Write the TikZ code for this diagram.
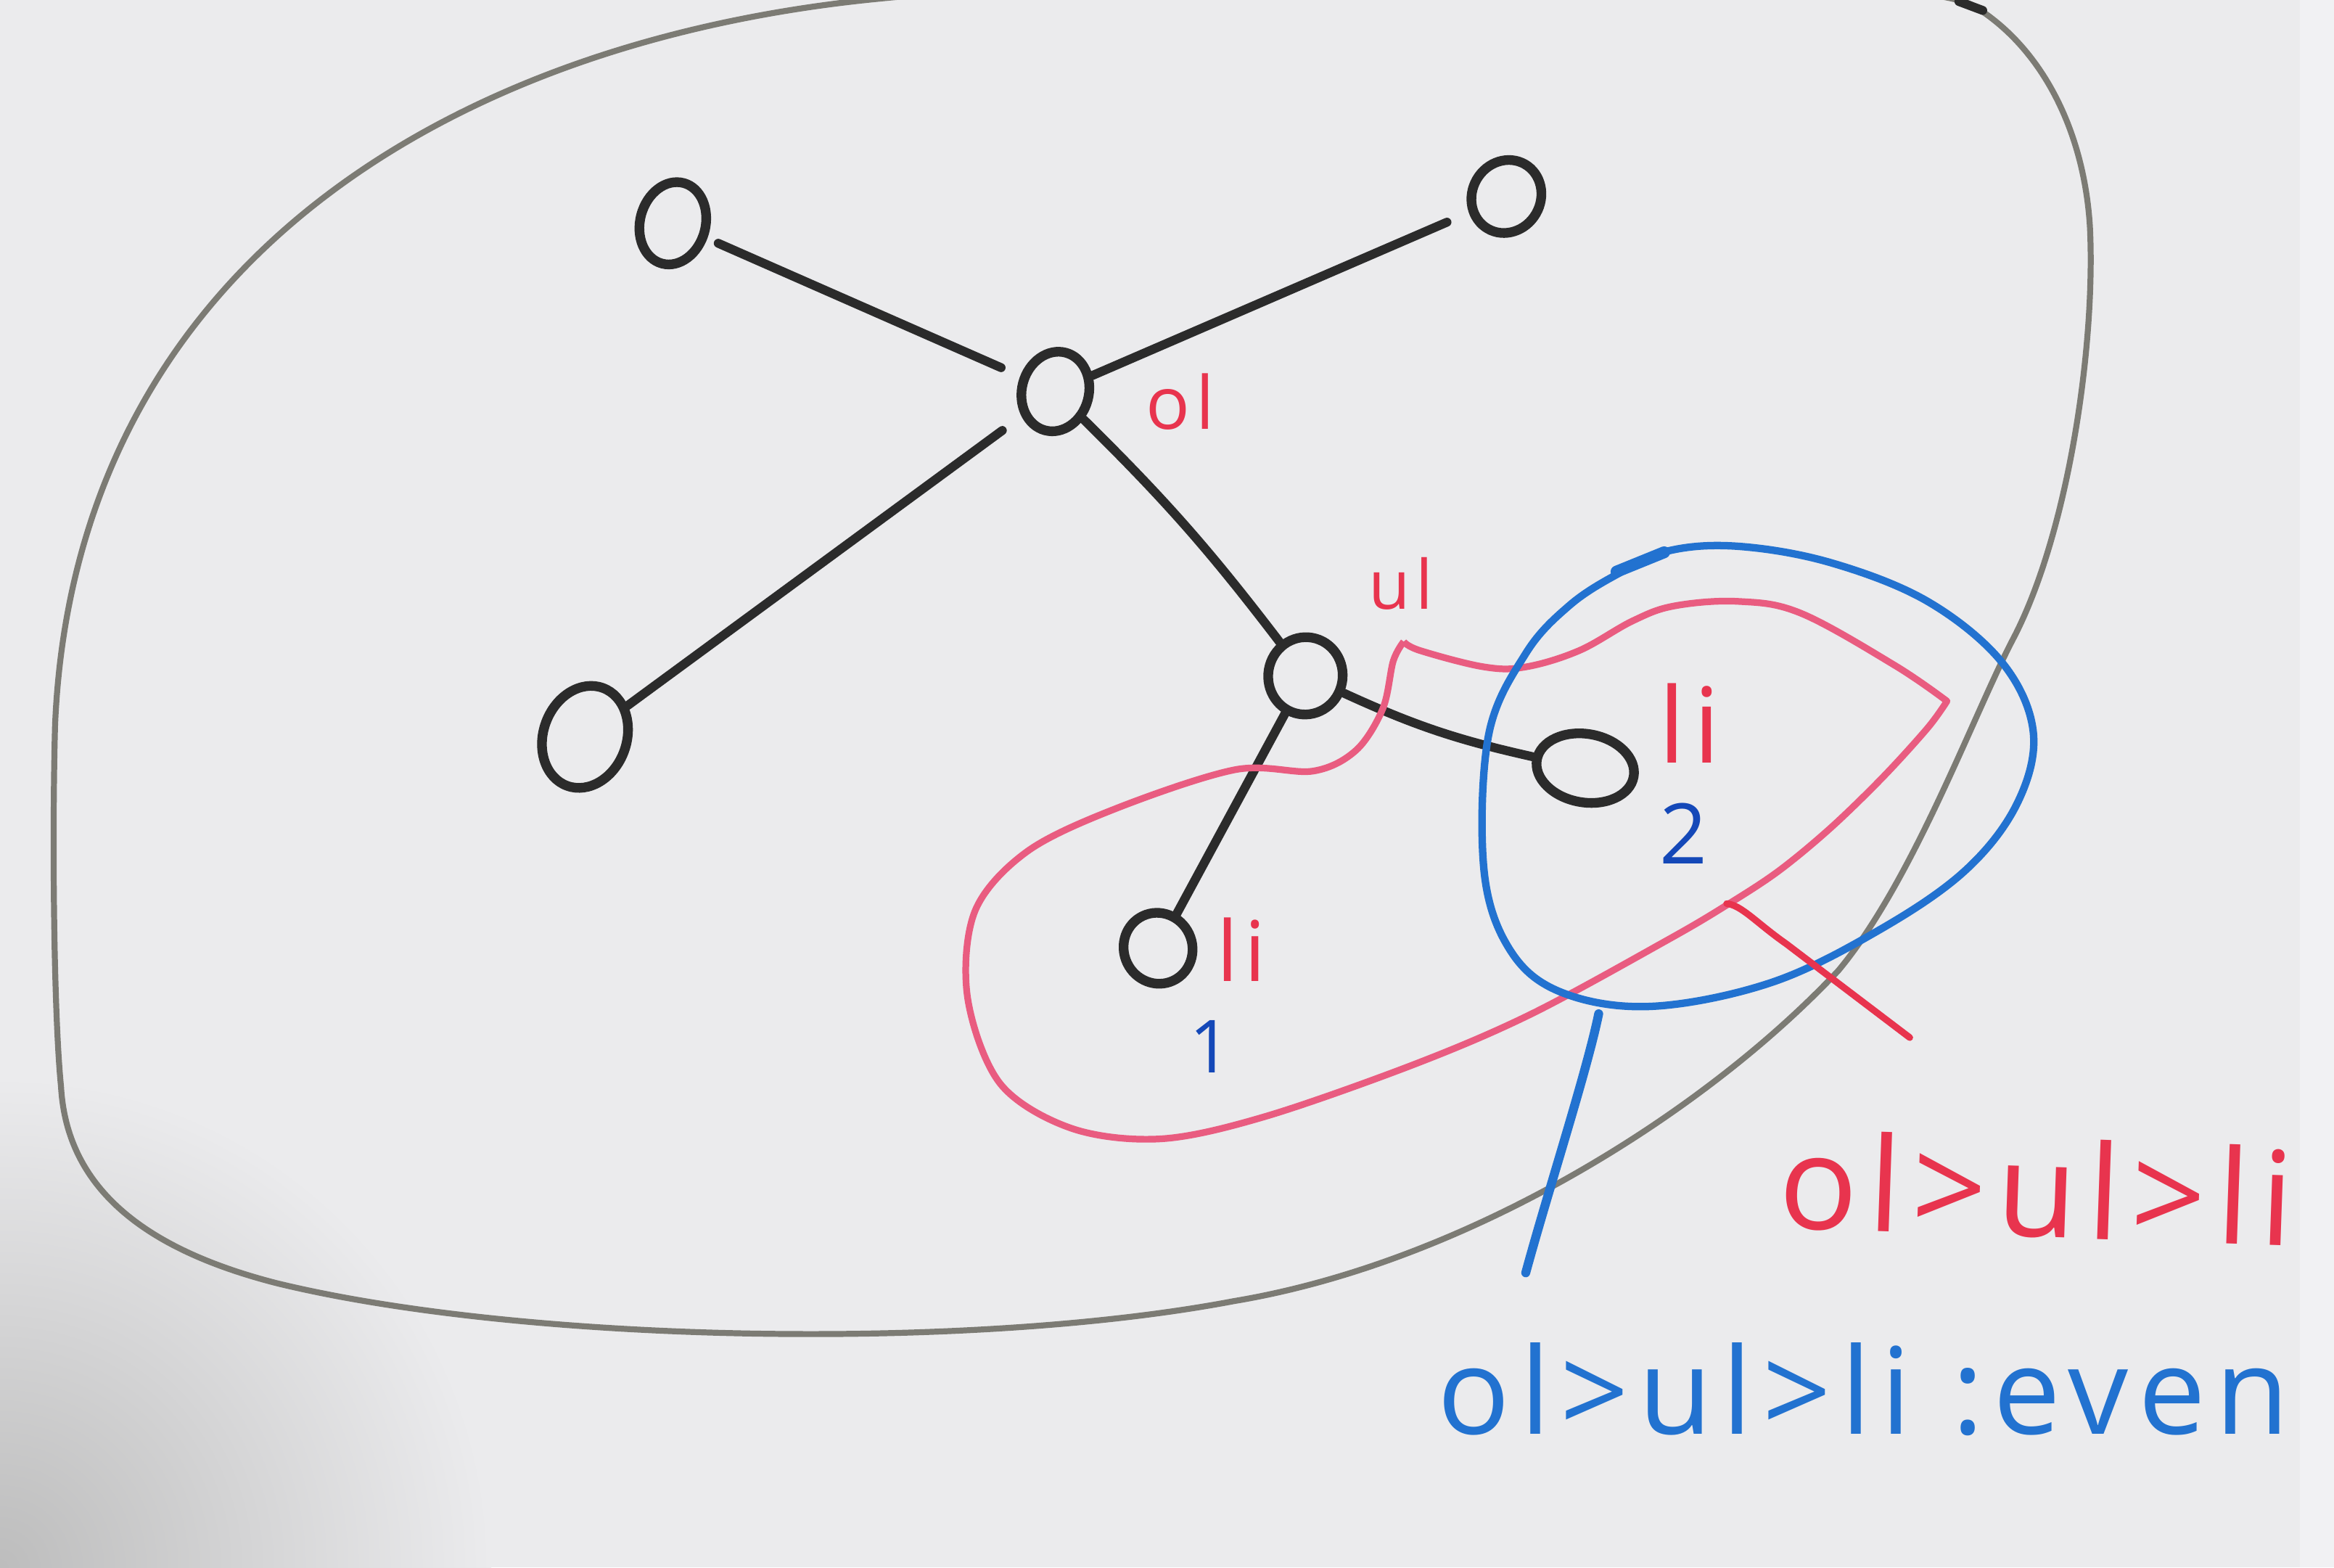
\documentclass[tikz,border=0pt]{standalone}
\usepackage{fontspec}
\newfontfamily\hand[LetterSpace=8]{Open Sans}
\usetikzlibrary{shapes.geometric}
\definecolor{board}{HTML}{EBEBED}
\definecolor{ink}{HTML}{2B2B2B}
\definecolor{framegray}{HTML}{7C7B74}
\definecolor{redink}{HTML}{E8344E}
\definecolor{pinkink}{HTML}{E95C80}
\definecolor{blueink}{HTML}{2272D0}
\definecolor{dblue}{HTML}{1448B8}
\tikzset{
  vert/.style={ellipse, draw=ink, line width=0.65mm, inner sep=0pt},
  edge/.style={draw=ink, line width=0.6mm, line cap=round},
  rlab/.style={text=redink, inner sep=0pt},
  blab/.style={text=dblue, inner sep=0pt},
  blobline/.style={draw=pinkink, line width=0.45mm, line join=round},
  circline/.style={draw=blueink, line width=0.5mm},
  pointer/.style={line width=0.45mm, line cap=round},
}
\begin{document}
\begin{tikzpicture}[x=0.1mm,y=-0.1mm]
\path[fill=board] (0,0) rectangle (1568,1053);
\useasboundingbox (0,0) rectangle (1568,1053);
\begin{scope}
\clip (0,0) rectangle (1568,1053);
\shade[inner color=black!26, outer color=board] (0,1053) circle (330);
\fill[white, opacity=0.35] (1545,0) rectangle (1568,1053);
% outer gray outline
\draw[framegray, line width=0.4mm, line join=round]
  (582,0) .. controls (300,30) and (50,180) .. (37,487)
  .. controls (35,560) and (36,680) .. (41,730)
  .. controls (45,800) and (100,840) .. (186,862)
  .. controls (350,902) and (650,908) .. (829,874)
  .. controls (985,848) and (1145,748) .. (1235,652)
  .. controls (1285,592) and (1325,482) .. (1352,430)
  .. controls (1390,358) and (1408,230) .. (1404,152)
  .. controls (1400,88) and (1372,32) .. (1326,4)
  .. controls (1282,-22) and (800,-23) .. (582,0);
\draw[ink, line width=0.6mm, line cap=round] (1316,1) -- (1332,7);
\end{scope}

% vertices
\node[vert, minimum width=4.4mm, minimum height=5.6mm, rotate=-15] (tl) at (452,150) {};
\node[vert, minimum width=4.6mm, minimum height=5.0mm, rotate=-30] (tr) at (1012,132) {};
\node[vert, minimum width=4.5mm, minimum height=5.4mm, rotate=-15] (ol) at (709,263) {};
\node[vert, minimum width=5.6mm, minimum height=7.0mm, rotate=-20] (bl) at (393,495) {};
\node[vert, minimum width=5.0mm, minimum height=5.2mm, rotate=-10] (ul) at (877,454) {};
\node[vert, minimum width=6.6mm, minimum height=4.6mm, rotate=-10] (l2) at (1065,516) {};
\node[vert, minimum width=4.6mm, minimum height=4.8mm, rotate=25] (l1) at (778,637) {};

% edges
\draw[edge, shorten <=0.8mm, shorten >=1.4mm] (tl) -- (ol);
\draw[edge, shorten >=1.6mm] (ol) -- (tr);
\draw[edge, shorten <=1.6mm] (ol) -- (bl);
\draw[edge] (ol) to[bend left=4] (ul);
\draw[edge] (ul) -- (l1);
\draw[edge] (ul) to[bend right=6] (l2);

% red blob (ol>ul>li)
\draw[blobline]
  plot[smooth, tension=0.6] coordinates {
   (943,431) (954,437) (997,448) (1025,448) (1061,437) (1097,417) (1125,407)
   (1168,404) (1210,412) (1273,447) (1308,471)}
  -- plot[smooth, tension=0.55] coordinates {
   (1308,471) (1295,489) (1265,522) (1230,556) (1195,585) (1160,608)
   (1121,631) (1029,681) (950,715) (850,750) (780,765) (720,758) (672,728)
   (650,670) (655,612) (690,572) (750,543) (830,517) (882,518) (911,504)
   (929,476) (936,444) (943,431)};

% blue circle (:even)
\draw[circline]
  plot[smooth cycle, tension=0.6] coordinates {
   (1086,386) (1121,370) (1168,367) (1230,378) (1295,404) (1345,445)
   (1366,492) (1355,540) (1320,585) (1262,625) (1190,660) (1110,676)
   (1050,667) (1015,639) (997,585) (1000,494) (1025,439) (1054,407)};
\draw[blueink, line width=0.8mm, line cap=round] (1086,384) -- (1118,371);

% labels
\node[rlab, font=\hand\fontsize{14pt}{14pt}\selectfont] (olL) at (793,270) {ol};
\node[rlab, font=\hand\fontsize{13pt}{13pt}\selectfont] (ulL) at (941,392) {ul};
\node[rlab, font=\hand\fontsize{20pt}{20pt}\selectfont] (liA) at (1135,486) {li};
\node[rlab, font=\hand\fontsize{16pt}{16pt}\selectfont] (liB) at (834,638) {li};
\node[blab, font=\hand\fontsize{16pt}{16pt}\selectfont] (two) at (1131,560) {2};
\node[blab, font=\hand\fontsize{14pt}{14pt}\selectfont] (one) at (813,703) {1};

% pointers and captions
\coordinate (rp1) at (1160,607);
\coordinate (rp2) at (1283,697);
\draw[pointer, redink] (rp1) .. controls (1170,608) and (1180,620) .. (1200,634) -- (rp2);
\coordinate (bp1) at (1074,681);
\coordinate (bp2) at (1025,855);
\draw[pointer, blueink, line width=0.6mm] (bp1) .. controls (1066,720) and (1040,800) .. (bp2);

\node[rlab, font=\hand\fontsize{25pt}{25pt}\selectfont, rotate=-2] (rtext) at (1368,798) {ol>ul>li};
\node[text=blueink, inner sep=0pt, font=\hand\fontsize{23pt}{23pt}\selectfont] (btext) at (1252,933) {ol>ul>li :even};
\end{tikzpicture}
\end{document}
